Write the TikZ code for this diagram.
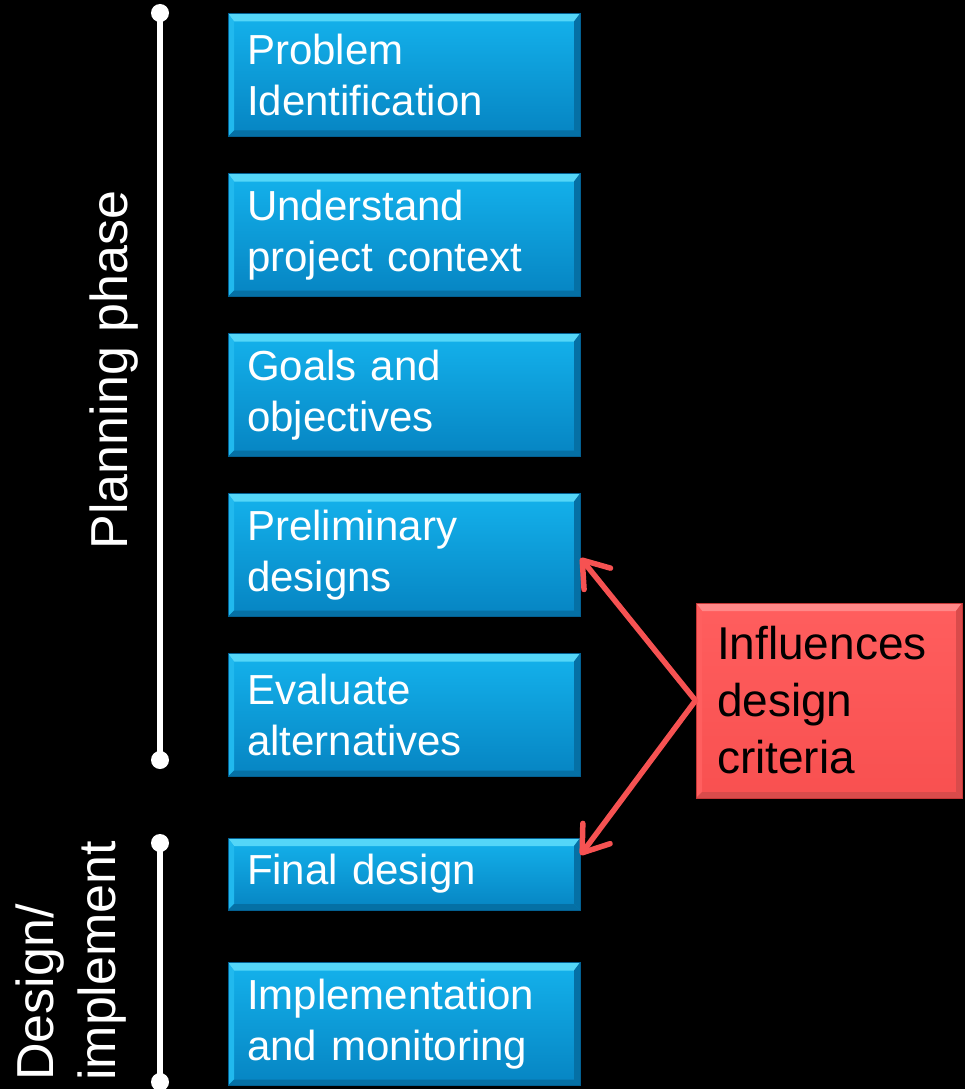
\documentclass[tikz,border=0pt]{standalone}
\usepackage{fontspec}
\setmainfont{Liberation Sans}
\usetikzlibrary{arrows.meta,calc}

\definecolor{boxtop}{RGB}{20,178,236}
\definecolor{boxbot}{RGB}{6,132,194}
\definecolor{boxbevel}{RGB}{84,214,248}
\definecolor{boxedge}{RGB}{3,96,146}
\definecolor{redfill}{RGB}{255,88,88}
\definecolor{redtop}{RGB}{255,94,94}
\definecolor{redbot}{RGB}{248,80,80}
\definecolor{redbevel}{RGB}{255,136,136}
\definecolor{reddark}{RGB}{196,54,54}
\definecolor{arrowred}{RGB}{246,82,82}

\tikzset{
  bevelled/.style n args={3}{
    path picture={
      \fill[#1] (path picture bounding box.north west) -- (path picture bounding box.north east)
        -- ([xshift=-6pt,yshift=-8pt]path picture bounding box.north east)
        -- ([xshift=6pt,yshift=-8pt]path picture bounding box.north west) -- cycle;
      \fill[#2] (path picture bounding box.north west)
        -- ([xshift=6pt,yshift=-8pt]path picture bounding box.north west)
        -- ([xshift=6pt,yshift=6pt]path picture bounding box.south west)
        -- (path picture bounding box.south west) -- cycle;
      \fill[#3] (path picture bounding box.north east)
        -- ([xshift=-6pt,yshift=-8pt]path picture bounding box.north east)
        -- ([xshift=-6pt,yshift=6pt]path picture bounding box.south east)
        -- (path picture bounding box.south east) -- cycle;
      \fill[#3] (path picture bounding box.south west)
        -- ([xshift=6pt,yshift=6pt]path picture bounding box.south west)
        -- ([xshift=-6pt,yshift=6pt]path picture bounding box.south east)
        -- (path picture bounding box.south east) -- cycle;
    }},
  stepbox/.style={rectangle, minimum width=352pt, minimum height=123pt,
    inner xsep=19pt, inner ysep=0pt, text width=314pt, align=left,
    text=white, font=\fontsize{42}{51}\selectfont,
    top color=boxtop, bottom color=boxbot, draw=boxedge, line width=1pt,
    bevelled={boxbevel}{boxtop!80!boxbevel}{boxbot!85!black}},
  notebox/.style={rectangle, minimum width=266pt, minimum height=195pt,
    inner xsep=21pt, inner ysep=0pt, text width=224pt, align=left,
    text=black, font=\fontsize{46}{57}\selectfont,
    top color=redtop, bottom color=redbot, draw=reddark, line width=1pt,
    bevelled={redbevel}{redfill!85!redbevel}{redfill!85!black}},
  sidelabel/.style={rotate=90, inner sep=0pt, text=white,
    font=\fontsize{52}{62}\selectfont},
  phaseline/.style={draw=white, line width=6pt},
  phasedot/.style={fill=white},
  infarrow/.style={draw=arrowred, line width=5.5pt, line cap=round, line join=round,
    -{Straight Barb[length=24pt,width=34pt,line cap=round,line join=round]}},
}

\begin{document}
\begin{tikzpicture}[x=1pt,y=-1pt]
  % page and background
  \fill[black] (0,0) rectangle (965,1089);
  \useasboundingbox (0,0) rectangle (965,1089);

  % process steps
  \node[stepbox] (b1) at (404,75)  {Problem\\Identification};
  \node[stepbox] (b2) at (404,235) {Understand\\project context};
  \node[stepbox] (b3) at (404,395) {Goals and\\objectives};
  \node[stepbox] (b4) at (404,555) {Preliminary\\designs};
  \node[stepbox] (b5) at (404,715) {Evaluate\\alternatives};
  \node[stepbox, minimum height=72pt] (b6) at (404,874) {Final design};
  \node[stepbox] (b7) at (404,1024) {Implementation\\and monitoring};

  % note box
  \node[notebox] (rb) at (829,700.5) {Influences\\design\\criteria};

  % arrows from the note to the affected steps
  \draw[infarrow] (rb.west) -- ([yshift=-3pt]b4.east);
  \draw[infarrow] (rb.west) -- ([yshift=19pt]b6.east);

  % phase brackets
  \coordinate (ptop) at (160,13);
  \coordinate (pbot) at (160,760);
  \coordinate (dtop) at (160,843);
  \coordinate (dbot) at (160,1082);
  \draw[phaseline] (ptop) -- (pbot);
  \draw[phaseline] (dtop) -- (dbot);
  \foreach \c in {ptop,pbot,dtop,dbot}
    \fill[phasedot] (\c) circle[radius=9pt];

  % phase labels
  \node[sidelabel, anchor=base] (plan) at (127,370) {Planning phase};
  \node[sidelabel, anchor=base west] (des1) at (53,1081) {Design/};
  \node[sidelabel, anchor=base west] (des2) at (115,1081) {implement};
\end{tikzpicture}
\end{document}
